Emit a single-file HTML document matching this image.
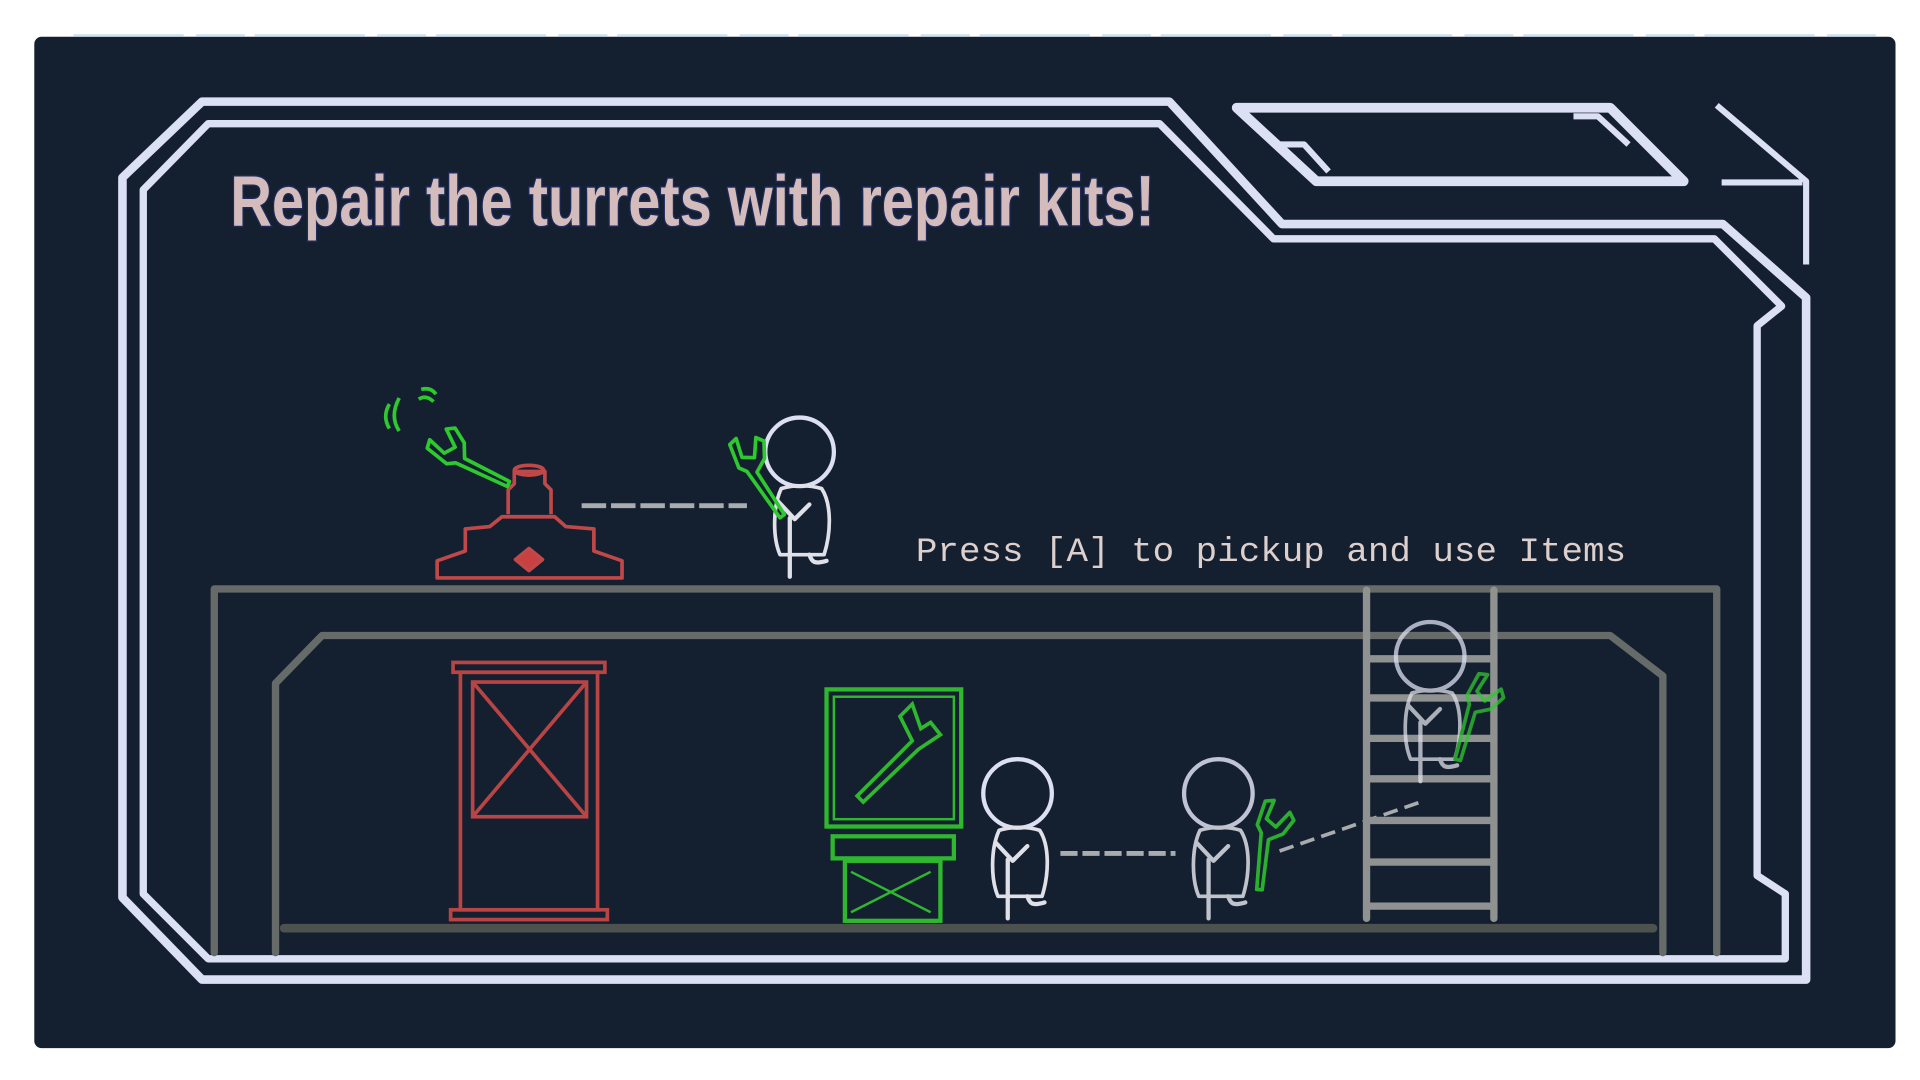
<!DOCTYPE html>
<html><head><meta charset="utf-8"><style>
html,body{margin:0;padding:0;background:#fff;width:1920px;height:1080px;overflow:hidden}
svg{display:block}
</style></head><body>
<svg width="1920" height="1080" viewBox="0 0 1568 882" preserveAspectRatio="none" xmlns="http://www.w3.org/2000/svg">
<defs>
<g id="guy" fill="none" stroke="#dfe0e8" stroke-width="3.5" stroke-linecap="round" stroke-linejoin="round">
<circle cx="0" cy="0" r="28" stroke="#dde0f2"/>
<path d="M-15,30 C-22,45 -22,70 -16,84 L20,84 C26,65 26,42 18,30 C8,27 -5,27 -15,30 Z" stroke-width="3"/>
<path d="M-8,54 L-8,102"/>
<path d="M8,84 C10,90 12,92 22,89" />
<path d="M-18,40 L-4,55 L8,43"/>
</g>
<g id="wrench" fill="none" stroke="#2ec92e" stroke-width="3" stroke-linejoin="round">
<path d="M0,0 L-6,-4 L-10,-24 L-4,-28 L-2,-12 L8,-10 L12,-26 L18,-22 L16,-8 L8,2 L24,40 L20,42 Z"/>
</g>
</defs>
<rect x="28" y="30" width="1520" height="826" rx="6" fill="#142030"/>
<g stroke="#b8d4ea" stroke-width="2" opacity="0.7">
<line x1="60" y1="29" x2="1540" y2="29" stroke-dasharray="90 10 40 8"/>
</g>
<g fill="none" stroke="#dbe0f4" stroke-width="7" stroke-linejoin="round">
<path d="M165,83 L955,83 L1047,183 L1407,183 L1475,243 L1475,800 L165,800 L100,733 L100,145 Z"/>
<path d="M170,101 L947,101 L1040,195 L1400,195 L1455,250 L1435,266 L1435,715 L1458,730 L1458,783 L170,783 L117,730 L117,155 Z" stroke-width="6"/>
<path d="M1010,88 L1315,88 L1375,148 L1075,148 Z" stroke-width="8"/>
<path d="M1042,118 L1065,118 L1085,140 M1285,95 L1305,95 L1330,118" stroke-width="5"/>
<path d="M1402,86 L1475,148 L1475,216 M1406,149 L1472,149" stroke-width="5"/>
</g>
<text x="188" y="184" font-family="'Liberation Sans Narrow','Liberation Sans',sans-serif" font-weight="bold" font-size="58" fill="#d4bcbc" stroke="#1d2a5a" stroke-width="2.5" paint-order="stroke" textLength="755" lengthAdjust="spacingAndGlyphs">Repair the turrets with repair kits!</text>
<text x="748" y="458" font-family="'Liberation Mono',monospace" font-size="28" fill="#dccfcc" textLength="580" lengthAdjust="spacingAndGlyphs">Press [A] to pickup and use Items</text>
<g fill="none" stroke="#666a68" stroke-width="6" stroke-linecap="round" stroke-linejoin="round">
<path d="M175,778 L175,481 L1402,481 L1402,778"/>
<path d="M225,778 L225,558 L263,519 L1315,519 L1358,552 L1358,778"/>
<path d="M232,758 L1350,758" stroke="#4d524f" stroke-width="7"/>
</g>
<g fill="none" stroke="#c04848" stroke-width="3" stroke-linejoin="round">
<path d="M357,472 L357,458 L380,450 L380,432 L400,430 L410,422 L453,422 L462,430 L485,432 L485,450 L508,458 L508,472 Z"/>
<path d="M415,420 L415,400 L420,395 L420,385 L445,385 L445,395 L450,400 L450,420"/>
<ellipse cx="432" cy="384" rx="12" ry="4"/>
<path d="M432,448 L443,457 L432,466 L421,457 Z" fill="#c94040"/>
</g>
<g>
<use href="#wrench" transform="translate(372,378) rotate(-40)"/>
<path d="M318,330 Q312,340 318,350 M326,325 Q318,340 326,352 M344,318 Q352,316 356,322 M342,326 Q348,322 354,328" fill="none" stroke="#2ec92e" stroke-width="3"/>
</g>
<line x1="475" y1="413" x2="610" y2="413" stroke="#a8acae" stroke-width="4" stroke-dasharray="20 4"/>
<g><use href="#guy" transform="translate(653,369)"/><use href="#wrench" transform="translate(610,385) rotate(-10)"/></g>
<g fill="none" stroke="#b84444" stroke-width="3">
<rect x="370" y="541" width="124" height="8"/>
<rect x="376" y="549" width="112" height="194"/>
<rect x="386" y="557" width="93" height="110"/>
<path d="M386,557 L479,667 M479,557 L386,667"/>
<rect x="368" y="743" width="128" height="8"/>
</g>
<g fill="none" stroke="#2fb82f" stroke-width="3.5">
<rect x="675" y="563" width="110" height="112"/>
<rect x="681" y="569" width="98" height="100" stroke-width="2"/>
<rect x="680" y="683" width="99" height="18"/>
<rect x="690" y="703" width="78" height="49"/>
<path d="M695,712 L760,745 M760,712 L695,745" stroke-width="2"/>
<path d="M700,650 L745,605 L735,585 L745,575 L752,595 L760,590 L768,600 L750,612 L705,655 Z" stroke-width="3"/>
</g>
<g><use href="#guy" transform="translate(831,648)"/></g>
<line x1="866" y1="697" x2="960" y2="697" stroke="#a8acae" stroke-width="4" stroke-dasharray="14 4"/>
<g opacity="0.85"><use href="#guy" transform="translate(995,648)"/><use href="#wrench" transform="translate(1030,680) rotate(30)"/></g>
<line x1="1045" y1="695" x2="1160" y2="655" stroke="#a8acae" stroke-width="3" stroke-dasharray="12 6"/>
<g stroke="#8f9290" stroke-width="6" stroke-linecap="round">
<line x1="1116" y1="482" x2="1116" y2="750"/><line x1="1220" y1="482" x2="1220" y2="750"/>
<line x1="1116" y1="538" x2="1220" y2="538"/><line x1="1116" y1="570" x2="1220" y2="570"/><line x1="1116" y1="603" x2="1220" y2="603"/><line x1="1116" y1="636" x2="1220" y2="636"/><line x1="1116" y1="670" x2="1220" y2="670"/><line x1="1116" y1="704" x2="1220" y2="704"/><line x1="1116" y1="740" x2="1220" y2="740"/>
</g>
<g opacity="0.75"><use href="#guy" transform="translate(1168,536)"/><use href="#wrench" transform="translate(1200,575) rotate(40)"/></g>
</svg>
</body></html>
